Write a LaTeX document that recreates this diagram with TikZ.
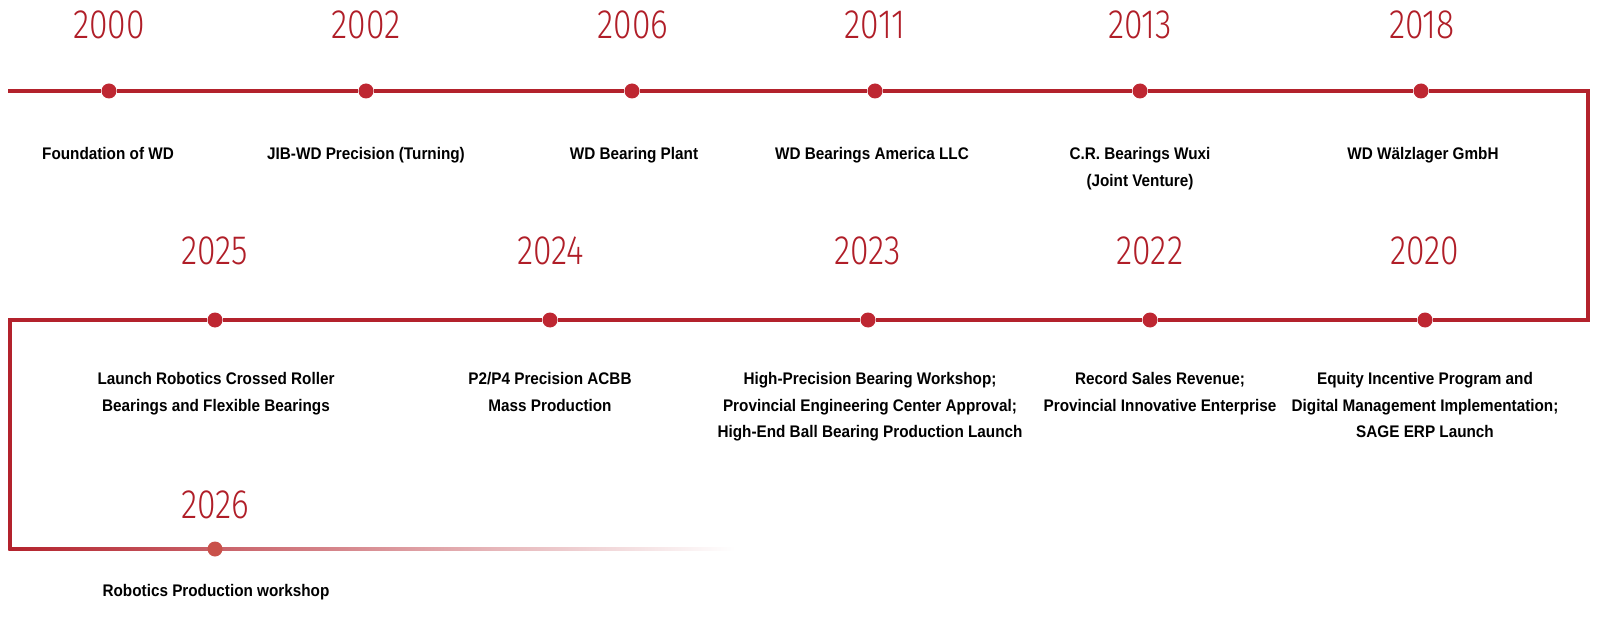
\documentclass[tikz,border=0pt]{standalone}
\usepackage{fontspec}
\usetikzlibrary{calc}
\newfontfamily\yrfont[FakeStretch=0.82]{Fira Sans Light}
\newfontfamily\lblfont[FakeStretch=0.91]{Liberation Sans}
\definecolor{tlred}{HTML}{B3222C}
\definecolor{dotred}{HTML}{BE2732}
\definecolor{dotfade}{HTML}{C9514A}
\definecolor{yrred}{HTML}{B01E28}
\definecolor{fadeorange}{HTML}{D0785C}

\begin{document}
\begin{tikzpicture}[x=1pt,y=-1pt,
    tl/.style={draw=tlred,line width=3.5pt},
    dot/.style={circle,fill=dotred,inner sep=0pt,minimum size=15pt},
    yr/.style={text=yrred,inner sep=0pt,
      font=\yrfont\fontsize{41}{41}\selectfont},
    lbl/.style={anchor=north,align=center,inner sep=0pt,
      font=\lblfont\bfseries\fontsize{16.8}{26.7}\selectfont}]
  \useasboundingbox (0,0) rectangle (1600,620);
  % corners of the track
  \coordinate (start) at (8,91);
  \coordinate (ne) at (1588,91);
  \coordinate (se) at (1588,320);
  \coordinate (nw) at (10,320);
  \coordinate (sw) at (10,549);
  \coordinate (fadeend) at (735,549);
  % first row
  \node[dot] (d2000) at (109,91) {};
  \node[dot] (d2002) at (366,91) {};
  \node[dot] (d2006) at (632,91) {};
  \node[dot] (d2011) at (875,91) {};
  \node[dot] (d2013) at (1140,91) {};
  \node[dot] (d2018) at (1421,91) {};
  % second row
  \node[dot] (d2020) at (1425,320) {};
  \node[dot] (d2022) at (1150,320) {};
  \node[dot] (d2023) at (868,320) {};
  \node[dot] (d2024) at (550,320) {};
  \node[dot] (d2025) at (215,320) {};
  \path (start) edge[tl] (d2000)
  (d2000) edge[tl] (d2002)
  (d2002) edge[tl] (d2006)
  (d2006) edge[tl] (d2011)
  (d2011) edge[tl] (d2013)
  (d2013) edge[tl] (d2018);
  \draw[tl] (d2018) -- (ne) -- (se) -- (d2020);
  \path (d2020) edge[tl] (d2022)
  (d2022) edge[tl] (d2023)
  (d2023) edge[tl] (d2024)
  (d2024) edge[tl] (d2025);
  \draw[tl] (d2025) -- (nw) -- (sw);
  % fading last row
  \shade[left color=tlred,middle color=fadeorange,right color=white]
    ($(sw)+(-1.75,-1.75)$) rectangle ($(fadeend)+(0,1.75)$);
  \node[dot,fill=dotfade] (d2026) at (215,549) {};
  % years
  \node[yr] (y2000) at (109,25) {2000};
  \node[yr] (y2002) at (366,25) {2002};
  \node[yr] (y2006) at (633,25) {2006};
  \node[yr] (y2011) at (875,25) {2011};
  \node[yr] (y2013) at (1140,25) {2013};
  \node[yr] (y2018) at (1422,25) {2018};
  \node[yr] (y2025) at (215,251) {2025};
  \node[yr] (y2024) at (551,251) {2024};
  \node[yr] (y2023) at (868,251) {2023};
  \node[yr] (y2022) at (1150,251) {2022};
  \node[yr] (y2020) at (1425,251) {2020};
  \node[yr] (y2026) at (215,505) {2026};
  % events
  \node[lbl] (e2000) at (108,147) {Foundation of WD};
  \node[lbl] (e2002) at (366,147) {JIB-WD Precision (Turning)};
  \node[lbl] (e2006) at (634,147) {WD Bearing Plant};
  \node[lbl] (e2011) at (872,147) {WD Bearings America LLC};
  \node[lbl] (e2013) at (1140,147) {C.R. Bearings Wuxi\\(Joint Venture)};
  \node[lbl] (e2018) at (1423,147) {WD Wälzlager GmbH};
  \node[lbl] (e2025) at (216,372) {Launch Robotics Crossed Roller\\Bearings and Flexible Bearings};
  \node[lbl] (e2024) at (550,372) {P2/P4 Precision ACBB\\Mass Production};
  \node[lbl] (e2023) at (870,372) {High-Precision Bearing Workshop;\\Provincial Engineering Center Approval;\\High-End Ball Bearing Production Launch};
  \node[lbl] (e2022) at (1160,372) {Record Sales Revenue;\\Provincial Innovative Enterprise};
  \node[lbl] (e2020) at (1425,372) {Equity Incentive Program and\\Digital Management Implementation;\\SAGE ERP Launch};
  \node[lbl] (e2026) at (216,584) {Robotics Production workshop};
\end{tikzpicture}
\end{document}
